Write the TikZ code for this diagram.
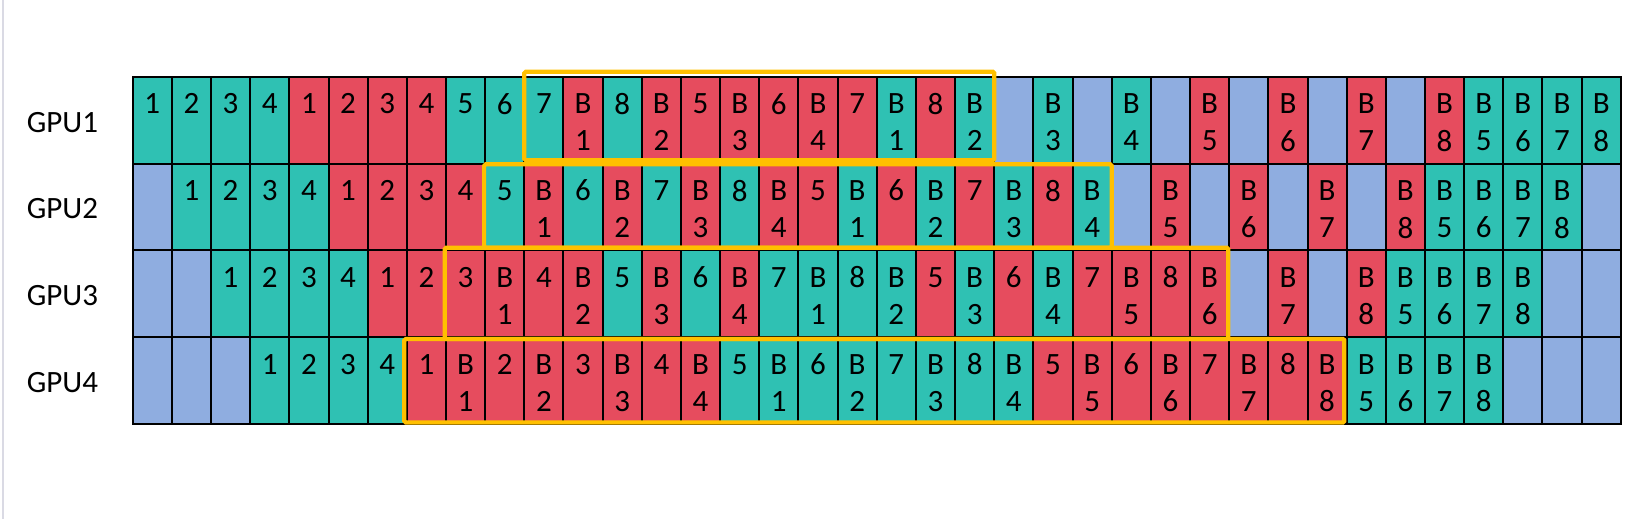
\documentclass[tikz,border=0pt]{standalone}
\usepackage{fontspec}
\setmainfont{Carlito}
\usetikzlibrary{positioning}

\definecolor{gr}{RGB}{47,193,179}
\definecolor{rd}{RGB}{230,76,94}
\definecolor{bl}{RGB}{143,173,224}
\definecolor{hilite}{RGB}{255,192,0}
\definecolor{sidebar}{RGB}{218,218,228}

\tikzset{
  cell/.style={rectangle, draw=black, line width=2pt, minimum width=39.16pt,
    minimum height=86.83pt, inner sep=0pt, outer sep=0pt, anchor=north west},
  celltxt/.style={inner sep=0pt, font=\fontsize{31pt}{37pt}\selectfont},
  gpulab/.style={inner sep=0pt, anchor=west, font=\fontsize{31pt}{37pt}\selectfont},
  window/.style={draw=hilite, line width=4.2pt, rounded corners=1.5pt}
}

% one row of the schedule: #1 = gpu index, #2 = colour/top/bottom list
\newcommand{\gpurow}[2]{%
  \foreach \c/\a/\b [count=\i] in {#2} {
    \node[cell, fill=\c] (g#1-\i) at ({132.7+(\i-1)*39.16}, {76.7+(#1-1)*86.83}) {};
    \node[celltxt] (g#1-\i-t) at ([yshift=-27pt]g#1-\i.north) {\a};
    \node[celltxt] (g#1-\i-u) at ([yshift=-64pt]g#1-\i.north) {\b};
  }%
}

\begin{document}
\begin{tikzpicture}[x=1pt,y=-1pt]
\useasboundingbox (0,0) rectangle (1630,519);
\draw[sidebar, line width=2pt] (2.7,0) -- (2.7,519);

\gpurow{1}{gr/1/{}, gr/2/{}, gr/3/{}, gr/4/{}, rd/1/{}, rd/2/{}, rd/3/{}, rd/4/{},
  gr/5/{}, gr/6/{}, gr/7/{}, rd/B/1, gr/8/{}, rd/B/2, rd/5/{}, rd/B/3, rd/6/{}, rd/B/4,
  rd/7/{}, gr/B/1, rd/8/{}, gr/B/2, bl/{}/{}, gr/B/3, bl/{}/{}, gr/B/4, bl/{}/{}, rd/B/5,
  bl/{}/{}, rd/B/6, bl/{}/{}, rd/B/7, bl/{}/{}, rd/B/8, gr/B/5, gr/B/6, gr/B/7, gr/B/8}
\gpurow{2}{bl/{}/{}, gr/1/{}, gr/2/{}, gr/3/{}, gr/4/{}, rd/1/{}, rd/2/{}, rd/3/{}, rd/4/{},
  gr/5/{}, rd/B/1, gr/6/{}, rd/B/2, gr/7/{}, rd/B/3, gr/8/{}, rd/B/4, rd/5/{}, gr/B/1,
  rd/6/{}, gr/B/2, rd/7/{}, gr/B/3, rd/8/{}, gr/B/4, bl/{}/{}, rd/B/5, bl/{}/{}, rd/B/6,
  bl/{}/{}, rd/B/7, bl/{}/{}, rd/B/8, gr/B/5, gr/B/6, gr/B/7, gr/B/8, bl/{}/{}}
\gpurow{3}{bl/{}/{}, bl/{}/{}, gr/1/{}, gr/2/{}, gr/3/{}, gr/4/{}, rd/1/{}, rd/2/{}, rd/3/{},
  rd/B/1, rd/4/{}, rd/B/2, gr/5/{}, rd/B/3, gr/6/{}, rd/B/4, gr/7/{}, gr/B/1, gr/8/{},
  gr/B/2, rd/5/{}, gr/B/3, rd/6/{}, gr/B/4, rd/7/{}, rd/B/5, rd/8/{}, rd/B/6, bl/{}/{},
  rd/B/7, bl/{}/{}, rd/B/8, gr/B/5, gr/B/6, gr/B/7, gr/B/8, bl/{}/{}, bl/{}/{}}
\gpurow{4}{bl/{}/{}, bl/{}/{}, bl/{}/{}, gr/1/{}, gr/2/{}, gr/3/{}, gr/4/{}, rd/1/{}, rd/B/1,
  rd/2/{}, rd/B/2, rd/3/{}, rd/B/3, rd/4/{}, rd/B/4, gr/5/{}, gr/B/1, gr/6/{}, gr/B/2,
  gr/7/{}, gr/B/3, gr/8/{}, gr/B/4, rd/5/{}, rd/B/5, rd/6/{}, rd/B/6, rd/7/{}, rd/B/7,
  rd/8/{}, rd/B/8, gr/B/5, gr/B/6, gr/B/7, gr/B/8, bl/{}/{}, bl/{}/{}, bl/{}/{}}

% row labels
\foreach \r in {1,...,4}
  \node[gpulab] (gpu\r) at ([xshift=-106pt, yshift=-2pt]g\r-1.west) {GPU\r};

% steady-state windows
\draw[window] ([yshift=5pt]g1-11.north west) rectangle ([yshift=3.2pt]g1-22.south east);
\draw[window] ([xshift=-1pt, yshift=-0.8pt]g2-10.north west) rectangle ([yshift=2.7pt]g2-25.south east);
\draw[window] ([xshift=-1.3pt, yshift=2.7pt]g3-9.north west) rectangle ([xshift=-1pt, yshift=-1.8pt]g3-28.south east);
\draw[window] ([xshift=-2.5pt, yshift=-1.8pt]g4-8.north west) rectangle ([xshift=-2.4pt, yshift=1.5pt]g4-31.south east);
\end{tikzpicture}
\end{document}
